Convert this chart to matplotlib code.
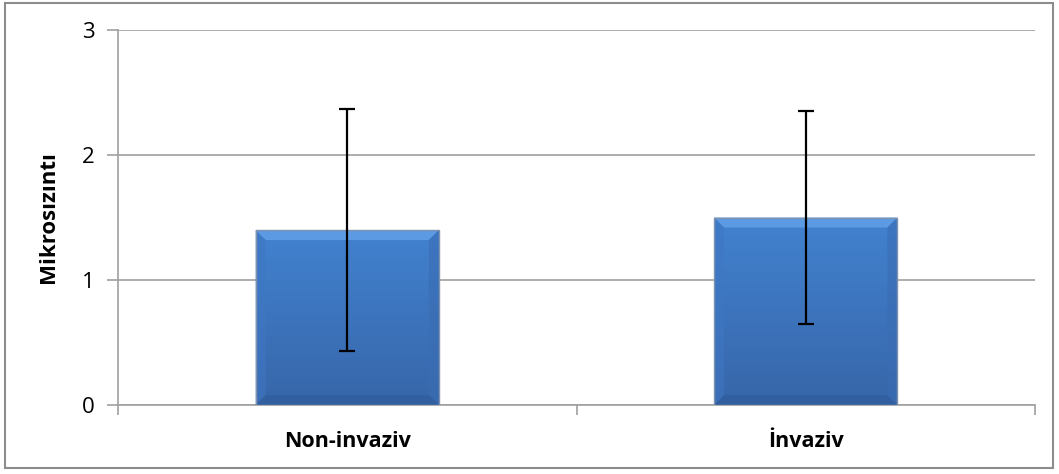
import matplotlib
matplotlib.use("Agg")
import matplotlib.pyplot as plt
import numpy as np
from matplotlib.patches import Rectangle, Polygon
from matplotlib.colors import LinearSegmentedColormap

categories = ["Non-invaziv", "İnvaziv"]
means = [1.40, 1.50]
sds = [0.97, 0.85]
yticks = [0, 1, 2, 3]
ylabel = "Mikrosızıntı"

plt.rcParams['font.family'] = ['Open Sans', 'DejaVu Sans']

W, H = 1059, 474
fig = plt.figure(figsize=(W / 100, H / 100), dpi=100)
ax = fig.add_axes([118 / W, 1 - 405 / H, (1035 - 118) / W, (405 - 30) / H])

x = np.arange(len(categories))
bw = 0.40
bars = ax.bar(x, means, width=bw, color="#4079C8", zorder=3, edgecolor="none")

grad = np.linspace(0, 1, 256).reshape(-1, 1)
cmap = LinearSegmentedColormap.from_list("g", ["#3766A9", "#4282D0"])
for b in bars:
    x0, y0 = b.get_x(), b.get_y()
    w, h = b.get_width(), b.get_height()
    im = ax.imshow(grad, extent=[x0, x0 + w, y0, y0 + h], origin="lower",
                   cmap=cmap, aspect="auto", zorder=3.1)
    im.set_clip_path(b)
    dx = 0.022
    dy = 0.08
    top = Polygon([[x0, y0 + h], [x0 + w, y0 + h], [x0 + w - dx, y0 + h - dy],
                   [x0 + dx, y0 + h - dy]], closed=True, color="#5C9AE4",
                  zorder=3.2, lw=0)
    ax.add_patch(top)
    left = Polygon([[x0, y0], [x0, y0 + h], [x0 + dx, y0 + h - dy], [x0 + dx, y0 + dy]],
                   closed=True, color="#3F77C2", zorder=3.2, lw=0, alpha=0.6)
    right = Polygon([[x0 + w, y0], [x0 + w, y0 + h], [x0 + w - dx, y0 + h - dy],
                     [x0 + w - dx, y0 + dy]], closed=True, color="#3A6DB3", zorder=3.2,
                    lw=0, alpha=0.6)
    bot = Polygon([[x0, y0], [x0 + w, y0], [x0 + w - dx, y0 + dy], [x0 + dx, y0 + dy]],
                  closed=True, color="#315E9E", zorder=3.2, lw=0, alpha=0.8)
    for p in (left, right, bot):
        ax.add_patch(p)
    ax.add_patch(Rectangle((x0, y0), w, h, fill=False, edgecolor="#7F93AE",
                           lw=1.0, zorder=3.3))

ax.errorbar(x, means, yerr=sds, fmt="none", ecolor="black", elinewidth=1.6,
            capsize=6, capthick=1.6, zorder=5)

ax.set_xlim(-0.5, len(categories) - 0.5)
ax.set_ylim(0, 3)
ax.set_yticks(yticks)
ax.set_yticklabels([str(t) for t in yticks], fontsize=16)
ax.yaxis.grid(True, color="#A0A0A0", lw=1.2, zorder=0)
ax.set_axisbelow(True)
ax.set_xticks([-0.5, 0.5, 1.5])
ax.set_xticklabels(["", "", ""])
ax.set_xticks(x, minor=True)
ax.set_xticklabels(categories, minor=True, fontsize=15.5, fontweight="bold")
ax.tick_params(axis="x", which="minor", length=0, pad=19)
ax.tick_params(axis="x", which="major", length=7, color="#A0A0A0", width=1.2)
ax.tick_params(axis="y", length=8, color="#A0A0A0", width=1.2, pad=9)
for s in ("top", "right"):
    ax.spines[s].set_visible(False)
ax.spines["left"].set_color("#A0A0A0")
ax.spines["left"].set_linewidth(1.2)
ax.spines["bottom"].set_color("#A0A0A0")
ax.spines["bottom"].set_linewidth(1.2)

ax.set_ylabel(ylabel, fontsize=16, fontweight="bold", labelpad=16)

fig.patches.append(Rectangle((5 / W, 1 - 468 / H), (1053 - 5) / W, (468 - 3) / H,
                             transform=fig.transFigure, fill=False,
                             edgecolor="#8C8C8C", lw=1.5))

fig.savefig("out.png", dpi=100)
